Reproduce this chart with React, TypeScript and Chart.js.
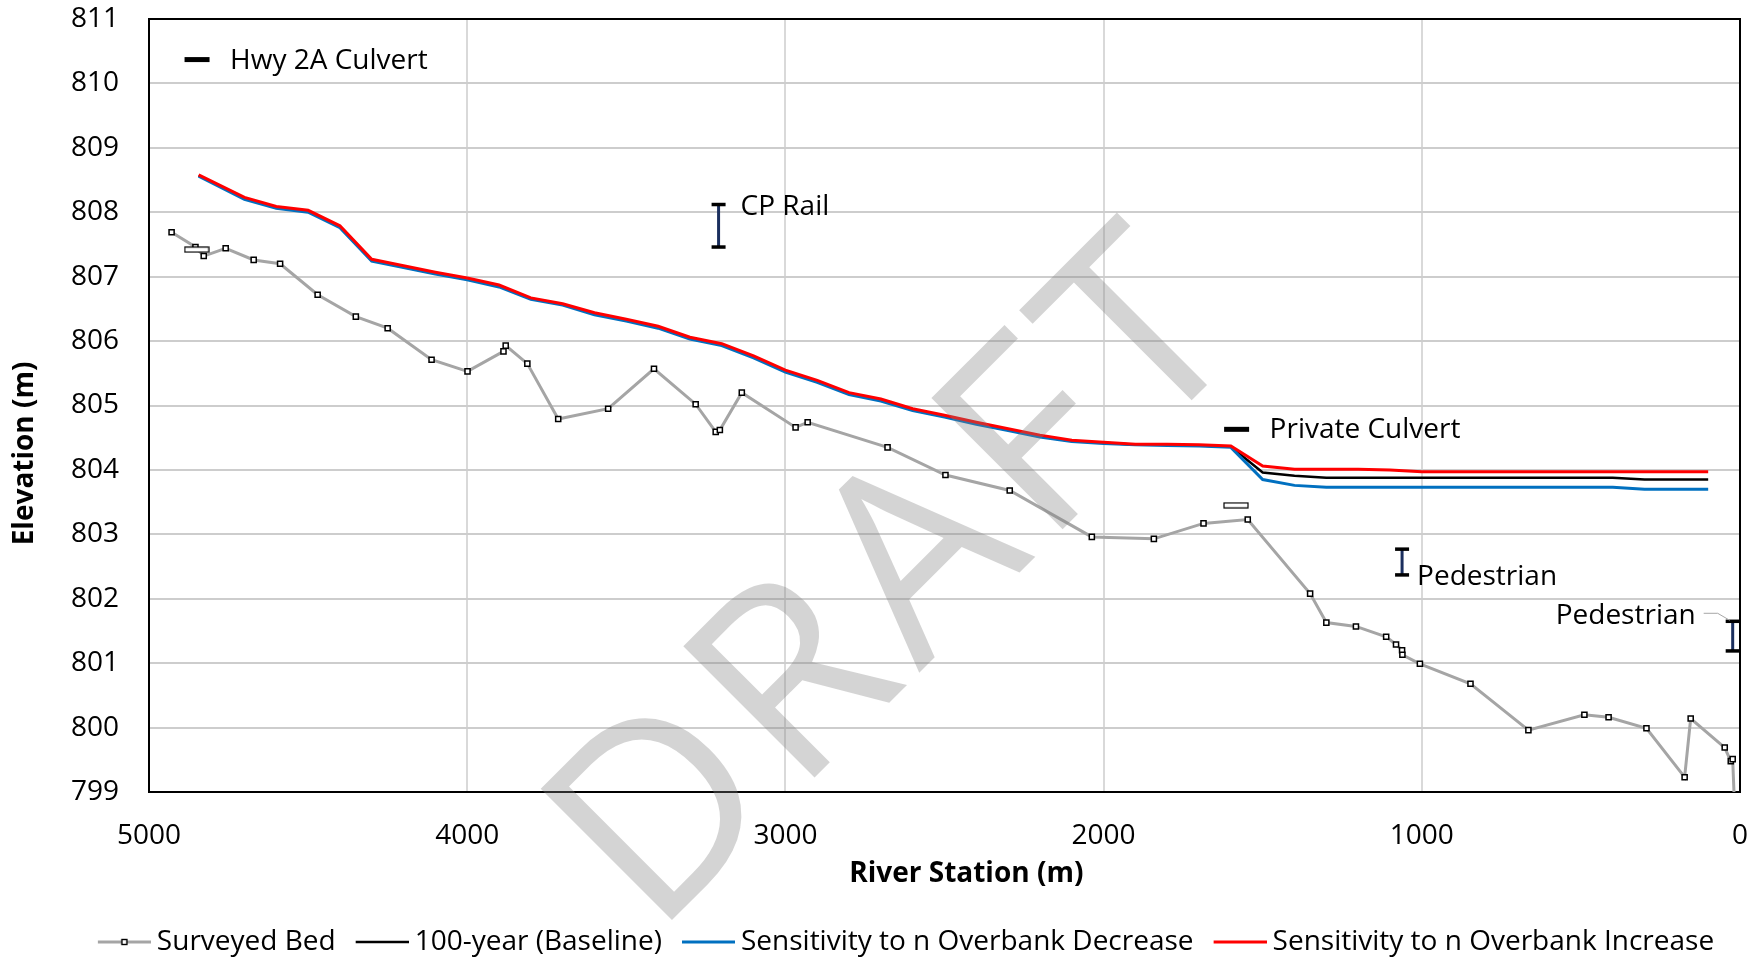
import React, { useEffect, useRef } from "react";
import { Chart, registerables } from "chart.js";

Chart.register(...registerables);

// ---------- data ----------
const bedStations = [
  4929, 4854, 4828, 4759, 4671, 4588, 4470, 4350, 4250, 4112, 3999, 3886, 3879, 3811,
  3714, 3557, 3413, 3282, 3219, 3206, 3137, 2968, 2930, 2679, 2497, 2295, 2037, 1842,
  1686, 1547, 1351, 1300, 1207, 1112, 1081, 1062, 1061, 1006, 847, 665, 489, 413, 294,
  174, 155, 48, 29, 23, 15,
];
const bedElevations = [
  807.69, 807.46, 807.32, 807.44, 807.26, 807.2, 806.72, 806.38, 806.2, 805.71, 805.53,
  805.84, 805.93, 805.65, 804.79, 804.95, 805.57, 805.02, 804.59, 804.62, 805.2, 804.66,
  804.74, 804.35, 803.92, 803.68, 802.96, 802.93, 803.17, 803.23, 802.08, 801.63, 801.57,
  801.41, 801.29, 801.2, 801.13, 800.99, 800.68, 799.96, 800.2, 800.16, 799.99, 799.23,
  800.14, 799.69, 799.48, 799.51, 798.5,
];

const wsStations = [
  4844, 4700, 4600, 4500, 4400, 4300, 4200, 4100, 4000, 3900,
  3800, 3700, 3600, 3500, 3400, 3300, 3200, 3100, 3000, 2900,
  2800, 2700, 2600, 2500, 2400, 2300, 2200, 2100, 2000, 1900,
  1800, 1700, 1600, 1500, 1400, 1300, 1200, 1100, 1000, 900,
  800, 700, 600, 500, 400, 300, 100,
];
const baselineWS = [
  808.57, 808.22, 808.07, 808.01, 807.78, 807.25, 807.15, 807.05, 806.96, 806.85,
  806.66, 806.57, 806.42, 806.32, 806.21, 806.04, 805.94, 805.75, 805.53, 805.37,
  805.18, 805.08, 804.93, 804.83, 804.72, 804.62, 804.52, 804.45, 804.42, 804.39,
  804.39, 804.38, 804.36, 803.96, 803.91, 803.88, 803.88, 803.88, 803.88, 803.88,
  803.88, 803.88, 803.88, 803.88, 803.88, 803.85, 803.85,
];
const decreaseWS = [
  808.56, 808.2, 808.06, 808.0, 807.76, 807.24, 807.14, 807.04, 806.95, 806.84,
  806.65, 806.56, 806.41, 806.31, 806.2, 806.03, 805.93, 805.74, 805.52, 805.36,
  805.17, 805.07, 804.92, 804.82, 804.71, 804.61, 804.51, 804.44, 804.41, 804.39,
  804.38, 804.37, 804.35, 803.85, 803.76, 803.73, 803.73, 803.73, 803.73, 803.73,
  803.73, 803.73, 803.73, 803.73, 803.73, 803.7, 803.7,
];
const increaseWS = [
  808.58, 808.23, 808.09, 808.03, 807.79, 807.27, 807.17, 807.07, 806.98, 806.87,
  806.67, 806.58, 806.44, 806.34, 806.23, 806.06, 805.96, 805.77, 805.55, 805.39,
  805.2, 805.1, 804.95, 804.85, 804.74, 804.64, 804.54, 804.46, 804.43, 804.4,
  804.4, 804.39, 804.37, 804.06, 804.01, 804.01, 804.01, 804.0, 803.97, 803.97,
  803.97, 803.97, 803.97, 803.97, 803.97, 803.97, 803.97,
];

const seriesNames = [
  "Surveyed Bed",
  "100-year (Baseline)",
  "Sensitivity to n Overbank Decrease",
  "Sensitivity to n Overbank Increase",
];

const xTitle = "River Station (m)";
const yTitle = "Elevation (m)";

const culvertNames = ["Hwy 2A Culvert", "Private Culvert"];
const culvertStations = [4850, 1584];
const culvertElevations = [807.42, 803.45];
const culvertLabelStations = [4849, 1582];
const culvertLabelElevations = [810.37, 804.63];

const bridgeNames = ["CP Rail", "Pedestrian", "Pedestrian"];
const bridgeStations = [3210, 1062, 23];
const bridgeLow = [807.46, 802.37, 801.19];
const bridgeHigh = [808.12, 802.77, 801.65];

const xMin = 0;
const xMax = 5000;
const xStep = 1000;
const yMin = 799;
const yMax = 811;
const yStep = 1;

// ---------- helpers ----------
const FONT = '"Open Sans", "Noto Sans", sans-serif';

function makeCanvas(w: number, h: number, draw: (c: CanvasRenderingContext2D) => void) {
  const cv = document.createElement("canvas");
  cv.width = w;
  cv.height = h;
  const c = cv.getContext("2d")!;
  draw(c);
  return cv;
}

// legend key: 61px canvas, line occupies px 8..61 so that with a 45px box it starts at the box start
function lineKey(color: string, width: number, withMarker: boolean) {
  return makeCanvas(61, 10, (c) => {
    c.strokeStyle = color;
    c.lineWidth = width;
    c.beginPath();
    c.moveTo(8, 5);
    c.lineTo(61, 5);
    c.stroke();
    if (withMarker) {
      c.fillStyle = "#fff";
      c.fillRect(32, 2.5, 5, 5);
      c.strokeStyle = "#000";
      c.lineWidth = 1.4;
      c.strokeRect(32, 2.5, 5, 5);
    }
  });
}

const culvertRect = () =>
  makeCanvas(26, 7, (c) => {
    c.fillStyle = "#fff";
    c.fillRect(1, 1, 24, 5);
    c.strokeStyle = "#000";
    c.lineWidth = 1.2;
    c.strokeRect(1, 1, 24, 5);
  });

export default function App() {
  const ref = useRef<HTMLCanvasElement | null>(null);

  useEffect(() => {
    if (!ref.current) return;
    const legendKeys = [
      lineKey("#A5A5A5", 3, true),
      lineKey("#000000", 2.5, false),
      lineKey("#0070C0", 3, false),
      lineKey("#FF0000", 3, false),
    ];
    const culvertImg = culvertRect();

    const bridgeDatasets = bridgeStations.map((s, i) => ({
      type: "line" as const,
      label: bridgeNames[i],
      data: [
        { x: s, y: bridgeLow[i] },
        { x: s, y: bridgeHigh[i] },
      ],
      borderColor: "#1B2F5E",
      borderWidth: 3,
      pointStyle: "line" as const,
      pointRadius: 7,
      pointBorderColor: "#000",
      pointBorderWidth: 3.5,
      order: 0,
    }));

    const labelsPlugin = {
      id: "structureLabels",
      beforeDatasetsDraw(chart: any) {
        const { ctx, chartArea: a } = chart;
        ctx.save();
        ctx.strokeStyle = "#000";
        ctx.lineWidth = 2;
        ctx.strokeRect(a.left, a.top, a.right - a.left, a.bottom - a.top);
        // axis titles
        ctx.fillStyle = "#000";
        ctx.font = `bold 28px ${FONT}`;
        ctx.textAlign = "center";
        ctx.textBaseline = "middle";
        ctx.fillText(xTitle, a.left + (a.right - a.left) * 0.5137, a.bottom + 82);
        ctx.translate(25.5, a.top + (a.bottom - a.top) * 0.562);
        ctx.rotate(-Math.PI / 2);
        ctx.fillText(yTitle, 0, 0);
        ctx.restore();
      },
      afterDatasetsDraw(chart: any) {
        const { ctx } = chart;
        const xs = chart.scales.x;
        const ys = chart.scales.y;
        ctx.save();
        ctx.font = `28px ${FONT}`;
        ctx.fillStyle = "#000";
        ctx.textBaseline = "middle";
        culvertNames.forEach((n, i) => {
          const px = xs.getPixelForValue(culvertLabelStations[i]);
          const py = ys.getPixelForValue(culvertLabelElevations[i]);
          ctx.textAlign = "left";
          ctx.fillText(n, px + 33, py + 1);
        });
        bridgeNames.forEach((n, i) => {
          const px = xs.getPixelForValue(bridgeStations[i]);
          const pt = ys.getPixelForValue(bridgeHigh[i]);
          const pb = ys.getPixelForValue(bridgeLow[i]);
          if (i === 0) {
            ctx.textAlign = "left";
            ctx.fillText(n, px + 22, pt + 3);
          } else if (i === 1) {
            ctx.textAlign = "left";
            ctx.fillText(n, px + 15, pb + 2);
          } else {
            ctx.textAlign = "right";
            ctx.fillText(n, px - 37, pt - 5);
            ctx.strokeStyle = "#A6A6A6";
            ctx.lineWidth = 1;
            ctx.beginPath();
            ctx.moveTo(px - 29, pt - 8);
            ctx.lineTo(px - 15, pt - 8);
            ctx.lineTo(px - 3, pt - 1);
            ctx.stroke();
          }
        });
        ctx.restore();
      },
      afterDraw(chart: any) {
        const { ctx } = chart;
        ctx.save();
        ctx.translate(654, 938);
        ctx.rotate((-45 * Math.PI) / 180);
        ctx.font = `260px ${FONT}`;
        try {
          (ctx as any).letterSpacing = "13px";
        } catch (e) {}
        ctx.fillStyle = "rgba(128,128,128,0.34)";
        ctx.textAlign = "left";
        ctx.textBaseline = "alphabetic";
        ctx.fillText("DRAFT", 0, 0);
        ctx.restore();
      },
    };

    const legendShift = {
      id: "legendShift",
      afterLayout(chart: any) {
        const l = chart.legend;
        if (l) {
          l.left += 32;
          l.right += 32;
        }
      },
    };

    const chart = new Chart(ref.current, {
      type: "line",
      data: {
        datasets: [
          {
            label: seriesNames[0],
            data: bedStations.map((s, i) => ({ x: s, y: bedElevations[i] })),
            borderColor: "#A5A5A5",
            borderWidth: 3,
            pointStyle: "rect",
            pointRadius: 3.6,
            pointBackgroundColor: "#fff",
            pointBorderColor: "#000",
            pointBorderWidth: 1.5,
            order: 6,
          },
          {
            label: seriesNames[1],
            data: wsStations.map((s, i) => ({ x: s, y: baselineWS[i] })),
            borderColor: "#000000",
            borderWidth: 2.5,
            pointRadius: 0,
            order: 5,
          },
          {
            label: seriesNames[2],
            data: wsStations.map((s, i) => ({ x: s, y: decreaseWS[i] })),
            borderColor: "#0070C0",
            borderWidth: 3,
            pointRadius: 0,
            order: 4,
          },
          {
            label: seriesNames[3],
            data: wsStations.map((s, i) => ({ x: s, y: increaseWS[i] })),
            borderColor: "#FF0000",
            borderWidth: 3,
            pointRadius: 0,
            order: 3,
          },
          {
            label: "Culverts",
            data: culvertStations.map((s, i) => ({ x: s, y: culvertElevations[i] })),
            showLine: false,
            pointStyle: culvertImg as any,
            pointRadius: 12,
            order: 1,
          },
          {
            label: "Culvert keys",
            data: culvertLabelStations.map((s, i) => ({ x: s, y: culvertLabelElevations[i] })),
            showLine: false,
            pointStyle: "line",
            pointRadius: 12.5,
            pointBorderWidth: 5,
            pointBorderColor: "#000",
            order: 1,
          },
          ...bridgeDatasets,
        ] as any,
      },
      options: {
        animation: false,
        responsive: false,
        devicePixelRatio: 1,
        layout: { autoPadding: false, padding: { left: 8, right: 18, top: 19, bottom: 0 } },
        plugins: {
          tooltip: { enabled: false },
          legend: {
            position: "bottom",
            maxHeight: 53,
            labels: {
              usePointStyle: true,
              pointStyleWidth: 45,
              padding: 20,
              color: "#000",
              font: { family: FONT, size: 28 },
              generateLabels(chart: any) {
                const items = (Chart.defaults.plugins.legend.labels as any).generateLabels(chart);
                return items
                  .filter((it: any) => it.datasetIndex < 4)
                  .sort((a: any, b: any) => a.datasetIndex - b.datasetIndex)
                  .map((it: any) => ({ ...it, pointStyle: legendKeys[it.datasetIndex] }));
              },
            },
          },
        },
        scales: {
          x: {
            type: "linear",
            reverse: true,
            min: xMin,
            max: xMax,
            afterFit(scale: any) {
              scale.height = 116;
              scale.paddingLeft = 0;
              scale.paddingRight = 0;
            },
            ticks: {
              stepSize: xStep,
              padding: 27,
              color: "#000",
              font: { family: FONT, size: 28 },
              maxRotation: 0,
              callback: (v: any) => String(v),
            },
            grid: { color: "#D9D9D9", lineWidth: 2, drawTicks: false },
            border: { display: false },
            title: { display: false },
          },
          y: {
            type: "linear",
            min: yMin,
            max: yMax,
            afterFit(scale: any) {
              scale.width = 141;
              scale.paddingTop = 0;
              scale.paddingBottom = 0;
            },
            ticks: {
              stepSize: yStep,
              padding: 30,
              color: "#000",
              font: { family: FONT, size: 28 },
              callback: (v: any) => String(v),
            },
            grid: { color: "#CDCDCD", lineWidth: 2, drawTicks: false },
            border: { display: false },
            title: { display: false },
          },
        },
      },
      plugins: [labelsPlugin, legendShift],
    } as any);

    return () => chart.destroy();
  }, []);

  return (
    <div style={{ position: "absolute", left: 0, top: 0, width: 1758, height: 961, background: "#fff" }}>
      <canvas ref={ref} width={1758} height={961} style={{ display: "block" }} />
    </div>
  );
}
